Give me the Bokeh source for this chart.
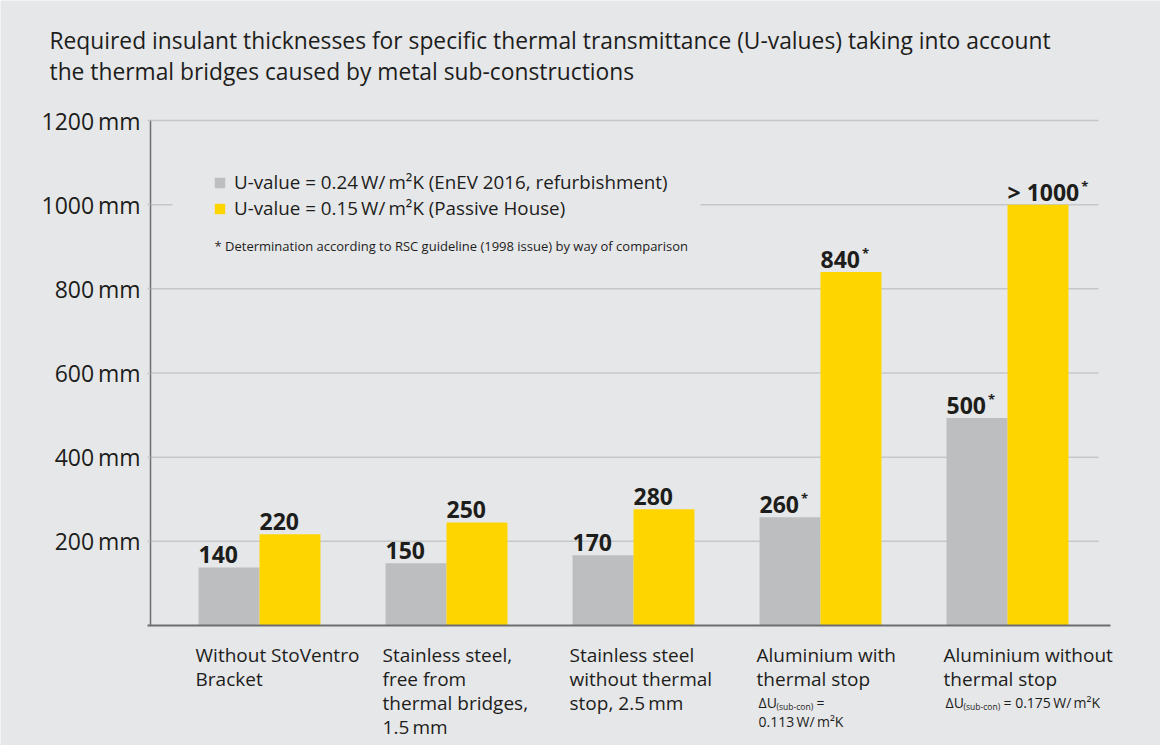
from bokeh.plotting import figure
from bokeh.models import FixedTicker, Label, Legend, LegendItem, ColumnDataSource, BoxAnnotation
from bokeh.core.properties import value
from bokeh.embed import file_html
from bokeh.resources import INLINE

# ---------------- data ----------------
title_lines = [
    "Required insulant thicknesses for specific thermal transmittance (U-values) taking into account",
    "the thermal bridges caused by metal sub-constructions",
]
category_lines = [
    ["Without StoVentro", "Bracket"],
    ["Stainless steel,", "free from", "thermal bridges,", "1.5\u2009mm"],
    ["Stainless steel", "without thermal", "stop, 2.5\u2009mm"],
    ["Aluminium with", "thermal stop"],
    ["Aluminium without", "thermal stop"],
]
delta_after = ["", "", "", " =", "= 0.175\u2009W/\u2009m\u00b2K"]
delta_line2 = ["", "", "", "0.113\u2009W/\u2009m\u00b2K", ""]

series_names = [
    "U-value = 0.24\u2009W/\u2009m\u00b2K (EnEV 2016, refurbishment)",
    "U-value = 0.15\u2009W/\u2009m\u00b2K (Passive House)",
]
gray_values = [138, 148, 167, 257, 493]
yellow_values = [217, 245, 276, 840, 1000]
gray_labels = ["140", "150", "170", "260", "500"]
yellow_labels = ["220", "250", "280", "840", ">\u00a01000"]
gray_star = [False, False, False, True, True]
yellow_star = [False, False, False, True, True]

footnote = "* Determination according to RSC guideline (1998 issue) by way of comparison"
y_ticks = [200, 400, 600, 800, 1000, 1200]
y_tick_labels = ["200\u2009mm", "400\u2009mm", "600\u2009mm", "800\u2009mm", "1000\u2009mm", "1200\u2009mm"]

# ---------------- style / layout ----------------
BG = "#e6e7e9"
GRAY = "#bdbec0"
YELLOW = "#ffd500"
GRID = "#c6c7c9"
AXIS = "#6d6e71"
TXT = "#1d1d1b"
FONT = "Open Sans"
BW = 0.326

W, H = 1160, 745
L, R, T, B = 150, 1098, 120, 625      # plot area in figure pixels
CX0, STEP = 259, 187                  # first category centre, px per category
YMAX = 1200
SCALE = (B - T) / YMAX                # px per mm


def xd(px):
    return (px - CX0) / STEP


idx = list(range(len(category_lines)))

p = figure(width=W, height=H,
           x_range=(xd(0), xd(W)),
           y_range=(-(H - B) / SCALE, YMAX + T / SCALE),
           output_backend="svg", toolbar_location=None, min_border=0,
           background_fill_color=BG, border_fill_color=BG, outline_line_color=None)

# axes (fixed inside the frame)
p.yaxis.fixed_location = xd(L)
p.yaxis.bounds = (0, YMAX)
p.yaxis.ticker = FixedTicker(ticks=y_ticks)
p.yaxis.major_label_overrides = dict(zip(y_ticks, y_tick_labels))
p.yaxis.major_label_text_font = FONT
p.yaxis.major_label_text_font_size = "23px"
p.yaxis.major_label_text_color = TXT
p.yaxis.axis_line_color = AXIS
p.yaxis.axis_line_width = 1.5
p.yaxis.major_tick_line_color = GRID
p.yaxis.major_tick_line_width = 1.5
p.yaxis.major_tick_in = 0
p.yaxis.major_tick_out = 3
p.yaxis.minor_tick_line_color = None
p.yaxis.major_label_standoff = 7

p.xaxis.fixed_location = 0
p.xaxis.bounds = (xd(147), xd(1110))
p.xaxis.ticker = FixedTicker(ticks=[])
p.xaxis.major_label_text_font_size = "0px"
p.xaxis.major_tick_line_color = None
p.xaxis.minor_tick_line_color = None
p.xaxis.axis_line_color = AXIS
p.xaxis.axis_line_width = 2

p.xgrid.visible = False
p.ygrid.visible = False

# horizontal grid lines limited to the plot area
p.segment(x0=[xd(L)] * len(y_ticks), x1=[xd(R)] * len(y_ticks), y0=y_ticks, y1=y_ticks,
          line_color=GRID, line_width=1.5)

# bars
r_g = p.vbar(x=[i - BW / 2 for i in idx], top=gray_values, width=BW,
             fill_color=GRAY, line_color=None)
r_y = p.vbar(x=[i + BW / 2 for i in idx], top=yellow_values, width=BW,
             fill_color=YELLOW, line_color=None)


# value labels
def text_width(s, size=23):
    w = 0.0
    for ch in s:
        w += (0.26 if ch in "\u00a0 " else 0.572) * size
    return w


lx = [i - BW for i in idx] + [i for i in idx]
ly = gray_values + yellow_values
lt = gray_labels + yellow_labels
lsrc = ColumnDataSource(dict(x=lx, y=ly, t=lt))
p.text(x="x", y="y", text="t", source=lsrc, text_font=value(FONT), text_font_style="bold",
       text_font_size="23px", text_color=TXT, text_align="left", text_baseline="middle",
       y_offset=-13)

stars = gray_star + yellow_star
sx = [x for x, s in zip(lx, stars) if s]
sy = [y for y, s in zip(ly, stars) if s]
so = [text_width(t) + 2 for t, s in zip(lt, stars) if s]
ssrc = ColumnDataSource(dict(x=sx, y=sy, xo=so, t=["*"] * len(sx)))
p.text(x="x", y="y", text="t", source=ssrc, x_offset="xo", y_offset=-19,
       text_font=value(FONT), text_font_style="bold", text_font_size="13px",
       text_color=TXT, text_align="left", text_baseline="middle")

# legend area background (hides the grid behind the legend)
p.add_layout(BoxAnnotation(left=xd(172), right=xd(700), bottom=860, top=1178,
                           fill_color=BG, fill_alpha=1.0, line_color=None))

legend = Legend(items=[LegendItem(label=series_names[0], renderers=[r_g]),
                       LegendItem(label=series_names[1], renderers=[r_y])],
                location=(213, 524), padding=0, margin=0, spacing=0,
                glyph_width=13, glyph_height=13, label_standoff=8, label_height=25,
                label_text_font=FONT, label_text_font_size="18.8px", label_text_color=TXT,
                background_fill_color=BG, background_fill_alpha=1.0, border_line_color=None)
p.add_layout(legend)

p.add_layout(Label(x=214, y=H - 245, x_units="screen", y_units="screen", text=footnote,
                   text_font=FONT, text_font_size="13px", text_color=TXT, text_baseline="middle"))

# title
for k, line in enumerate(title_lines):
    p.add_layout(Label(x=49, y=H - 40 - 31 * k, x_units="screen", y_units="screen", text=line,
                       text_font=FONT, text_font_size="22.8px", text_color=TXT,
                       text_baseline="middle"))

# category labels
for i, lines in enumerate(category_lines):
    for k, line in enumerate(lines):
        p.add_layout(Label(x=i - BW, x_offset=-3, y=H - 654 - 24 * k, x_units="data",
                           y_units="screen", text=line, text_font=FONT, text_font_size="19px",
                           text_color=TXT, text_baseline="middle"))
    if delta_after[i]:
        ny = H - 654 - 24 * len(lines)
        p.add_layout(Label(x=i - BW, x_offset=-1, y=ny, x_units="data", y_units="screen",
                           text="\u0394U", text_font=FONT, text_font_size="14px", text_color=TXT,
                           text_baseline="middle"))
        p.add_layout(Label(x=i - BW, x_offset=17, y=ny - 4, x_units="data", y_units="screen",
                           text="(sub-con)", text_font=FONT, text_font_size="8.5px",
                           text_color=TXT, text_baseline="middle"))
        p.add_layout(Label(x=i - BW, x_offset=57, y=ny, x_units="data", y_units="screen",
                           text=delta_after[i], text_font=FONT, text_font_size="14px",
                           text_color=TXT, text_baseline="middle"))
        if delta_line2[i]:
            p.add_layout(Label(x=i - BW, x_offset=-1, y=ny - 19, x_units="data",
                               y_units="screen", text=delta_line2[i], text_font=FONT,
                               text_font_size="14px", text_color=TXT, text_baseline="middle"))

open("out.html", "w").write(file_html(p, INLINE))
